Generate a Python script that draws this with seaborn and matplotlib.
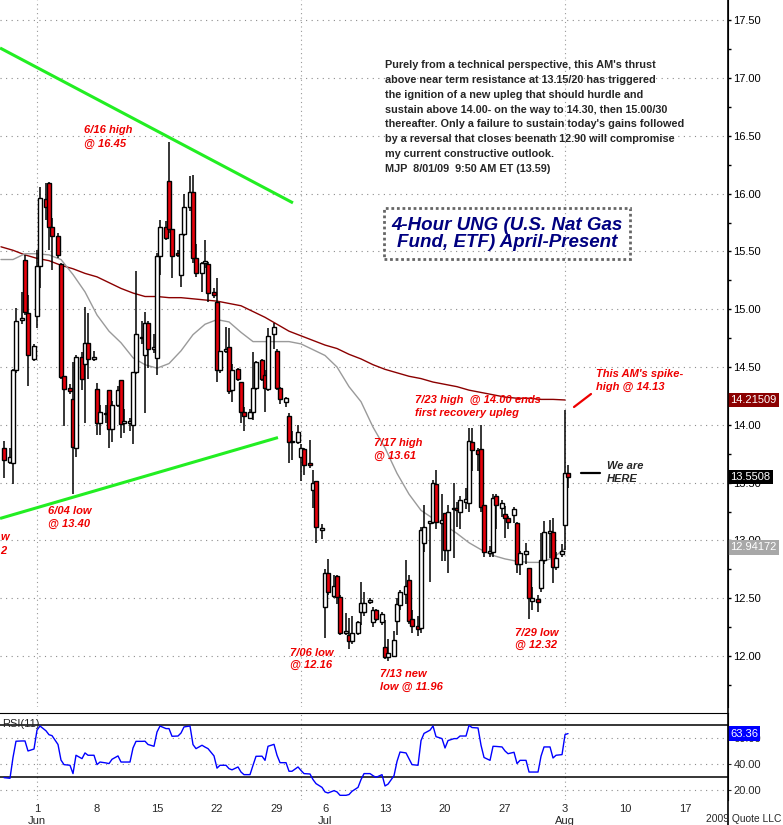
import numpy as np
import pandas as pd
import matplotlib
matplotlib.use("Agg")
import matplotlib.pyplot as plt
import matplotlib.transforms as mtrans
import seaborn as sns
from matplotlib.lines import Line2D
from matplotlib.patches import Rectangle
from matplotlib.ticker import MultipleLocator

# trading days on the chart (Jul 3 holiday left out)
days = [d for d in pd.bdate_range("2009-05-27", "2009-08-03") if d != pd.Timestamp("2009-07-03")]

# 4-hour bars, three per day; only the last bar of 5/27 is in view
opens = [13.80,
         13.68, 13.67, 14.47,  14.91, 15.43, 14.97,  14.57, 14.94, 15.37,  15.95, 16.09, 15.71,
         15.63, 15.39, 14.42,  14.32, 14.22, 13.80,  14.59, 14.53, 14.71,  14.57, 14.31, 14.02,
         14.09, 14.30, 13.96,  14.17, 14.39, 14.02,  14.02, 14.00, 14.46,  14.75, 14.60, 14.88,
         14.66, 14.58, 15.46,  15.71, 16.11, 15.69,  15.49, 15.30, 15.65,  15.88, 16.01, 15.44,
         15.31, 15.40, 15.39,  15.15, 15.06, 14.47,  14.64, 14.67, 14.30,  14.48, 14.37, 14.11,
         14.06, 14.11, 14.32,  14.56, 14.43, 14.31,  14.79, 14.64, 14.32,  14.20, 14.08, 13.85,
         13.85, 13.72, 13.79,  13.67, 13.44, 13.51,  13.09, 12.42, 12.72,  12.52, 12.69, 12.51,
         12.20, 12.18, 12.13,  12.20, 12.38, 12.38,  12.47, 12.29, 12.40,  12.29, 12.08, 11.99,
         12.00, 12.30, 12.44,  12.54, 12.66, 12.32,  12.26, 12.24, 12.98,  13.15, 13.16, 13.49,
         13.15, 13.24, 12.92,  13.27, 13.28, 13.25,  13.33, 13.32, 13.85,  13.78, 13.79, 13.31,
         12.89, 12.90, 13.38,  13.28, 13.23, 13.19,  13.22, 13.15, 12.80,  12.88, 12.76, 12.48,
         12.49, 12.59, 12.83,  13.06, 13.07, 12.77,  12.88, 13.13, 13.58]
highs = [13.86,
         13.80, 14.48, 15.01,  15.15, 15.47, 15.12,  14.70, 15.51, 16.06,  16.09, 16.10, 15.79,
         15.66, 15.40, 14.42,  14.35, 14.54, 14.60,  14.63, 15.02, 14.97,  14.64, 14.36, 14.17,
         14.17, 14.30, 14.21,  14.34, 14.39, 14.14,  14.06, 14.46, 15.33,  14.90, 14.98, 14.90,
         14.79, 15.49, 15.77,  15.76, 16.45, 15.69,  15.51, 15.65, 16.00,  16.15, 16.16, 15.56,
         15.41, 15.60, 15.41,  15.18, 15.27, 14.64,  14.85, 14.84, 14.53,  14.49, 14.37, 14.15,
         14.14, 14.63, 14.55,  14.57, 14.47, 14.84,  14.88, 14.66, 14.33,  14.24, 14.10, 13.95,
         14.00, 13.83, 13.80,  13.87, 13.61, 13.51,  13.14, 12.75, 12.84,  12.70, 12.70, 12.53,
         12.37, 12.33, 12.35,  12.30, 12.64, 12.55,  12.50, 12.42, 12.41,  12.38, 12.31, 12.15,
         12.22, 12.50, 12.57,  12.83, 12.70, 12.40,  12.35, 13.12, 13.31,  13.16, 13.52, 13.61,
         13.40, 13.24, 13.31,  13.50, 13.33, 13.38,  13.45, 13.97, 13.97,  13.80, 14.00, 13.31,
         12.95, 13.40, 13.40,  13.35, 13.30, 13.21,  13.29, 13.16, 12.91,  12.98, 12.76, 12.60,
         12.53, 13.06, 13.17,  13.18, 13.19, 12.90,  12.97, 14.13, 13.65]
lows = [13.54,
        13.66, 13.49, 14.45,  14.87, 14.95, 14.34,  14.55, 14.84, 15.18,  15.77, 15.51, 15.34,
        15.44, 14.40, 13.99,  14.27, 13.40, 13.72,  14.30, 14.02, 14.40,  14.55, 13.91, 13.91,
        14.02, 13.80, 13.85,  14.15, 13.89, 13.93,  13.95, 13.83, 14.44,  14.70, 14.10, 14.49,
        14.62, 14.43, 15.30,  15.60, 15.66, 15.27,  15.45, 15.19, 15.63,  15.85, 15.40, 15.28,
        15.15, 15.36, 15.06,  15.10, 14.37, 14.45,  14.62, 14.27, 14.20,  14.38, 14.02, 13.95,
        14.05, 14.04, 14.30,  14.38, 14.11, 14.29,  14.66, 14.30, 14.18,  14.15, 13.67, 13.70,
        13.83, 13.51, 13.57,  13.63, 13.28, 12.98,  13.01, 12.16, 12.53,  12.50, 12.45, 12.18,
        12.18, 12.06, 12.10,  12.18, 12.27, 12.35,  12.45, 12.25, 12.30,  12.27, 11.97, 11.96,
        11.99, 12.18, 12.40,  12.45, 12.28, 12.20,  12.17, 12.20, 12.90,  12.64, 13.14, 13.10,
        12.82, 12.82, 12.72,  12.85, 13.12, 13.10,  13.27, 13.25, 13.60,  13.60, 13.25, 12.86,
        12.86, 12.86, 13.10,  13.20, 13.02, 13.10,  13.15, 12.72, 12.70,  12.80, 12.32, 12.40,
        12.38, 12.55, 12.80,  12.85, 12.63, 12.74,  12.86, 12.92, 13.45]
closes = [13.70,
          13.72, 14.47, 14.90,  14.92, 14.98, 14.60,  14.68, 15.37, 15.96,  15.88, 15.71, 15.63,
          15.47, 14.41, 14.31,  14.29, 13.81, 14.59,  14.40, 14.71, 14.57,  14.58, 14.02, 14.11,
          14.10, 13.96, 14.17,  14.30, 14.01, 14.03,  14.03, 14.46, 14.79,  14.76, 14.88, 14.66,
          14.67, 15.46, 15.71,  15.62, 15.69, 15.46,  15.47, 15.65, 15.88,  16.01, 15.44, 15.31,
          15.40, 15.41, 15.14,  15.12, 14.47, 14.64,  14.65, 14.29, 14.47,  14.40, 14.11, 14.08,
          14.11, 14.32, 14.54,  14.40, 14.32, 14.77,  14.85, 14.32, 14.22,  14.23, 13.85, 13.86,
          13.94, 13.80, 13.65,  13.65, 13.50, 13.12,  13.10, 12.72, 12.55,  12.61, 12.51, 12.20,
          12.21, 12.13, 12.20,  12.29, 12.46, 12.46,  12.48, 12.40, 12.32,  12.36, 11.99, 12.03,
          12.14, 12.45, 12.55,  12.61, 12.30, 12.26,  12.23, 13.09, 13.12,  13.16, 13.50, 13.16,
          13.18, 12.92, 13.25,  13.28, 13.26, 13.35,  13.36, 13.86, 13.78,  13.75, 13.29, 12.90,
          12.91, 13.37, 13.31,  13.32, 13.19, 13.16,  13.27, 12.80, 12.89,  12.91, 12.50, 12.50,
          12.47, 12.83, 13.07,  13.08, 12.77, 12.85,  12.91, 13.58, 13.55]
rsi = [29.5,
       29.0, 45.0, 57.5,  57.7, 57.7, 50.0,  51.5, 66.0, 69.2,  65.5, 62.5, 61.8,
       55.0, 43.0, 39.5,  39.0, 32.6, 46.7,  44.1, 48.5, 46.7,  46.7, 39.5, 41.5,
       40.8, 40.3, 43.6,  46.2, 41.5, 41.5,  41.5, 52.3, 57.4,  57.4, 57.5, 55.0,
       53.6, 64.6, 69.2,  67.2, 67.2, 61.3,  61.5, 63.8, 68.5,  69.2, 54.9, 51.8,
       54.4, 53.0, 51.8,  46.2, 36.8, 39.0,  39.0, 36.4, 35.5,  37.7, 33.8, 31.8,
       31.8, 39.0, 45.9,  46.0, 42.8, 53.6,  55.1, 46.7, 41.0,  41.0, 34.4, 34.4,
       37.7, 35.0, 32.6,  32.3, 28.0, 24.9,  22.0, 18.5, 17.7,  19.5, 18.5, 15.9,
       15.9, 16.5, 19.0,  22.0, 28.0, 32.6,  32.6, 31.0, 29.7,  31.8, 23.1, 24.5,
       31.0, 42.0, 49.2,  48.5, 44.0, 39.5,  39.0, 58.0, 63.5,  66.0, 69.2, 61.0,
       59.5, 52.3, 58.0,  59.5, 59.5, 61.5,  61.5, 69.7, 68.0,  67.7, 54.4, 45.0,
       42.8, 53.6, 53.5,  53.1, 50.0, 47.9,  49.0, 40.3, 42.8,  42.8, 33.8, 33.8,
       33.8, 46.0, 53.1,  53.1, 44.6, 46.7,  47.2, 62.6, 63.36]

# moving averages, one reading per day
ma_slow = [15.54, 15.51, 15.47, 15.44, 15.42, 15.38, 15.35, 15.31, 15.28, 15.23, 15.18, 15.14,
           15.11, 15.11, 15.10, 15.10, 15.09, 15.08, 15.07, 15.05, 15.03, 14.98, 14.93, 14.87,
           14.81, 14.77, 14.73, 14.69, 14.66, 14.61, 14.57, 14.52, 14.48, 14.45, 14.42, 14.40,
           14.37, 14.35, 14.33, 14.30, 14.28, 14.26, 14.24, 14.23, 14.23, 14.22, 14.22, 14.215]
ma_fast = [15.43, 15.43, 15.48, 15.48, 15.47, 15.43, 15.30, 15.15, 14.95, 14.81, 14.71, 14.58,
           14.52, 14.49, 14.53, 14.64, 14.78, 14.87, 14.91, 14.89, 14.80, 14.72, 14.72, 14.72,
           14.72, 14.70, 14.65, 14.60, 14.50, 14.33, 14.20, 13.98, 13.80, 13.58, 13.40, 13.26,
           13.19, 13.13, 13.06, 12.98, 12.92, 12.87, 12.84, 12.82, 12.81, 12.81, 12.85, 12.93]

# trendlines (bar position, price)
trend_hi_x, trend_hi_y = [-0.08, 24.33], [17.26, 15.92]
trend_lo_x, trend_lo_y = [-0.08, 23.08], [13.19, 13.89]

tick_dates = ["2009-06-01", "2009-06-08", "2009-06-15", "2009-06-22", "2009-06-29", "2009-07-06",
              "2009-07-13", "2009-07-20", "2009-07-27", "2009-08-03", "2009-08-10", "2009-08-17"]
tick_text = ["1\nJun", "8", "15", "22", "29", "6\nJul", "13", "20", "27", "3\nAug", "10", "17"]
month_lines = ["2009-06-01", "2009-07-01", "2009-08-03"]

comment = ["Purely from a technical perspective, this AM's thrust",
           "above near term resistance at 13.15/20 has triggered",
           "the ignition of a new upleg that should hurdle and",
           "sustain above 14.00- on the way to 14.30, then 15.00/30",
           "thereafter. Only a failure to sustain today's gains followed",
           "by a reversal that closes beenath 12.90 will compromise",
           "my current constructive outlook.",
           "MJP  8/01/09  9:50 AM ET (13.59)"]

sns.set_style("white")
plt.rcParams["font.family"] = ["Liberation Sans", "DejaVu Sans"]

W, H = 783, 825
fig = plt.figure(figsize=(W / 100, H / 100), dpi=100)
ax = fig.add_axes([0, 1 - 707 / H, 728 / W, 707 / H])
ax2 = fig.add_axes([0, 1 - 800 / H, 728 / W, 87 / H], sharex=ax)

cal = days + list(pd.bdate_range("2009-08-04", "2009-08-20"))
def pos(s):
    return cal.index(pd.Timestamp(s))

day_x = np.arange(len(days))
bar_x = np.array([i + (k - 1) * 0.25 for i in range(len(days)) for k in range(3)][2:])
o, h, l, c = map(np.array, (opens, highs, lows, closes))

# price pane
for m in month_lines:
    ax.axvline(pos(m), color="#999999", ls=(0, (1, 3)), lw=0.8, zorder=0)
    ax2.axvline(pos(m), color="#999999", ls=(0, (1, 3)), lw=0.8, zorder=0)

sns.lineplot(x=day_x, y=ma_slow, color="#8b0000", lw=1, ax=ax, zorder=2)
sns.lineplot(x=day_x, y=ma_fast, color="#9a9a9a", lw=1, ax=ax, zorder=2)
ax.plot(trend_hi_x, trend_hi_y, color="#22ee22", lw=2.2, solid_capstyle="butt", zorder=2)
ax.plot(trend_lo_x, trend_lo_y, color="#22ee22", lw=2.2, solid_capstyle="butt", zorder=2)

ax.vlines(bar_x, l, h, color="black", lw=1.1, zorder=3)
up = c >= o
ax.bar(bar_x, np.maximum(np.abs(c - o), 0.014), bottom=np.minimum(o, c), width=0.27,
       color=np.where(up, "white", "#e8000b"), edgecolor="black", linewidth=1.0, zorder=4)

ax.set_xlim(-0.083, 60.58)
ax.set_ylim(11.559, 17.675)
ax.yaxis.tick_right()
ax.set_yticks(np.arange(12, 17.51, 0.5))
ax.yaxis.set_major_formatter(matplotlib.ticker.FormatStrFormatter("%.2f"))
ax.yaxis.set_minor_locator(MultipleLocator(0.25))
ax.tick_params(axis="y", which="both", direction="out", length=2.5, width=1, pad=1.5,
               labelsize=8, colors="black", right=True, left=False)
ax.tick_params(axis="x", bottom=False, labelbottom=False)
ax.grid(False)
ax.yaxis.grid(True, which="major", color="#8c8c8c", ls=(0, (1, 4)), lw=0.8)
for s in ["top", "left", "bottom"]:
    ax.spines[s].set_visible(False)
ax.spines["right"].set_color("black")
ax.set_xlabel("")
ax.set_ylabel("")

# RSI pane
sns.lineplot(x=bar_x, y=rsi, color="#0000ff", lw=1, ax=ax2, zorder=3)
ax2.axhline(70, color="black", lw=1.1)
ax2.axhline(30, color="black", lw=1.1)
for g in (20, 40, 60):
    ax2.axhline(g, color="#8c8c8c", ls=(0, (1, 4)), lw=0.8, zorder=0)
ax2.set_ylim(12.3, 79.2)
ax2.yaxis.tick_right()
ax2.set_yticks([20, 40, 60])
ax2.yaxis.set_major_formatter(matplotlib.ticker.FormatStrFormatter("%.2f"))
ax2.tick_params(axis="y", direction="out", length=2.5, pad=1.5, labelsize=8, right=True, left=False)
ax2.set_xticks([pos(d) for d in tick_dates])
ax2.set_xticklabels(tick_text)
ax2.tick_params(axis="x", length=0, pad=3, labelsize=8)
for s in ["left", "bottom"]:
    ax2.spines[s].set_visible(False)
ax2.spines["top"].set_color("black")
ax2.spines["right"].set_color("black")
ax2.grid(False)
ax2.set_xlabel("")
ax2.set_ylabel("")
ax2.text(0.003, 0.93, "RSI(11)", transform=ax2.transAxes, fontsize=8, va="top", ha="left")

# value flags on the right axis
def flag(a, y, txt, fc):
    tr = mtrans.blended_transform_factory(a.transAxes, a.transData)
    a.text(1.003, y, txt, transform=tr, ha="left", va="center", color="white", fontsize=8,
           bbox=dict(boxstyle="square,pad=0.2", fc=fc, ec="none"), clip_on=False, zorder=10)

flag(ax, ma_slow[-1], "14.21509", "#8b0000")
flag(ax, 13.5508, "13.5508", "black")
flag(ax, ma_fast[-1] + 0.01, "12.94172", "#a8a8a8")
flag(ax2, rsi[-1], "63.36", "#0000ff")

fig.add_artist(Line2D([728 / W, 728 / W], [0, 1], transform=fig.transFigure, color="black", lw=1.2))

def px(x, y):
    return x / W, 1 - y / H

# commentary and notes
for i, line in enumerate(comment):
    fig.text(*px(385, 65 + i * 14.86), line, fontsize=7.8, fontweight="bold", va="center", ha="left")

fig.text(*px(507, 234), "4-Hour UNG (U.S. Nat Gas\nFund, ETF) April-Present", fontsize=13.5,
         fontweight="bold", style="italic", color="#000080", va="center", ha="center", linespacing=1.05)
fig.add_artist(Rectangle(px(384, 259), 246 / W, 51 / H, transform=fig.transFigure, fill=False,
                         ec="#666666", lw=2, ls=(0, (1, 1))))

red_notes = [(84, 130, "6/16 high"), (84, 144, "@ 16.45"),
             (48, 511, "6/04 low"), (48, 524, "@ 13.40"),
             (290, 653, "7/06 low"), (290, 665, "@ 12.16"),
             (380, 674, "7/13 new"), (380, 687, "low @ 11.96"),
             (374, 443, "7/17 high"), (374, 456, "@ 13.61"),
             (415, 400, "7/23 high  @ 14.00 ends"), (415, 413, "first recovery upleg"),
             (515, 633, "7/29 low"), (515, 645, "@ 12.32"),
             (596, 374, "This AM's spike-"), (596, 387, "high @ 14.13"),
             (0, 537, "w"), (0, 551, "2")]
for x, y, t in red_notes:
    fig.text(*px(x, y), t, fontsize=8, fontweight="bold", style="italic", color="#ee0000",
             va="center", ha="left")
fig.text(*px(607, 466), "We are", fontsize=8, fontweight="bold", style="italic", va="center")
fig.text(*px(607, 479), "HERE", fontsize=8, fontweight="bold", style="italic", va="center")
fig.add_artist(Line2D([574 / W, 591 / W], [1 - 407 / H, 1 - 394 / H], transform=fig.transFigure,
                      color="#ee0000", lw=1.6))
fig.add_artist(Line2D([581 / W, 600 / W], [1 - 473 / H, 1 - 473 / H], transform=fig.transFigure,
                      color="black", lw=1.6))

fig.text(*px(781, 819), "2009 Quote LLC", fontsize=7.4, va="center", ha="right")

fig.savefig("out.png", dpi=100, facecolor="white")
